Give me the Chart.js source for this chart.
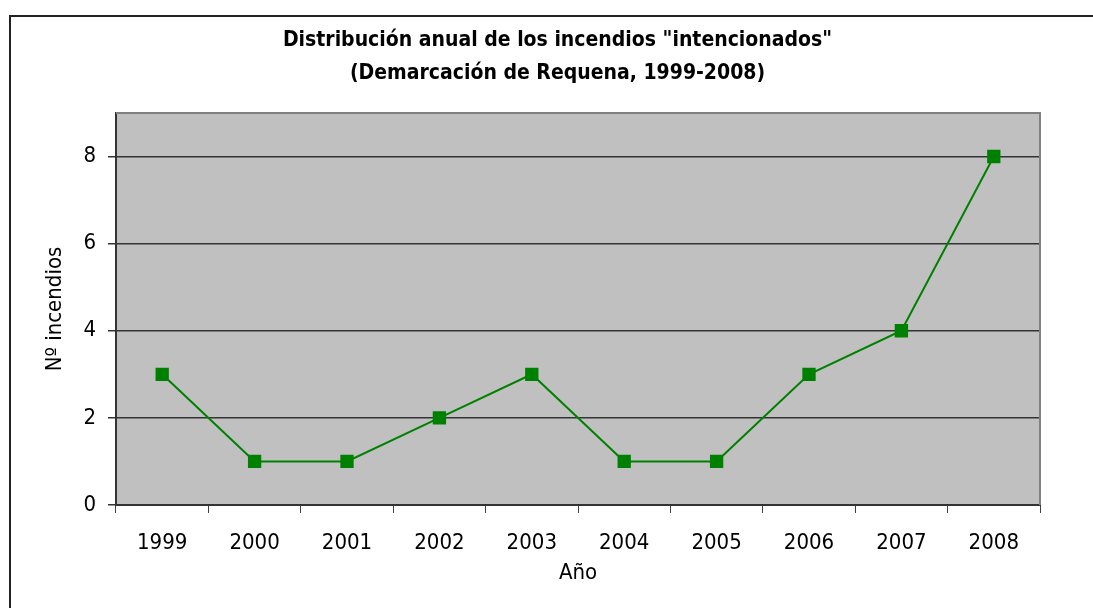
<!DOCTYPE html>
<html>
<head>
<meta charset="utf-8">
<script src="https://cdn.jsdelivr.net/npm/chart.js@4"></script>
<style>
  html, body { margin: 0; padding: 0; background: #fff; }
  #wrap { width: 1093px; height: 608px; }
</style>
</head>
<body>
<div id="wrap"><canvas id="incendiosChart" width="1093" height="608"></canvas></div>
<script>
const anos = ['1999', '2000', '2001', '2002', '2003', '2004', '2005', '2006', '2007', '2008'];
const incendios = [3, 1, 1, 2, 3, 1, 1, 3, 4, 8];
const yTicks = [0, 2, 4, 6, 8];
const tituloLineas = ['Distribución anual de los incendios "intencionados"', '(Demarcación de Requena, 1999-2008)'];

const FAMILIA = "'Liberation Sans Narrow', 'Arial Narrow', 'DejaVu Sans Condensed', sans-serif";

// fondo gris del área de trazado y marco exterior
const fondoPlugin = {
    id: 'fondo',
    afterLayout(chart) {
        // el título va centrado sobre el área de trazado, no sobre todo el lienzo
        if (chart.titleBlock) chart.titleBlock.left = 75;
    },
    beforeDraw(chart) {
        const { ctx, chartArea: a } = chart;
        ctx.save();
        ctx.fillStyle = '#fff';
        ctx.fillRect(0, 0, chart.width, chart.height);
        ctx.strokeStyle = '#222';
        ctx.lineWidth = 2;
        ctx.beginPath();
        ctx.moveTo(10, chart.height + 5);
        ctx.lineTo(10, 16);
        ctx.lineTo(chart.width + 5, 16);
        ctx.stroke();
        ctx.fillStyle = '#c0c0c0';
        ctx.fillRect(a.left, a.top, a.right - a.left, a.bottom - a.top);
        ctx.restore();
    },
    beforeDatasetsDraw(chart) {
        const { ctx, chartArea: a } = chart;
        ctx.save();
        ctx.strokeStyle = '#808080';
        ctx.lineWidth = 2;
        ctx.beginPath();
        ctx.moveTo(a.left, a.top);
        ctx.lineTo(a.right, a.top);
        ctx.lineTo(a.right, a.bottom);
        ctx.stroke();
        ctx.restore();
    }
};

new Chart(document.getElementById('incendiosChart'), {
    type: 'line',
    data: {
        labels: anos,
        datasets: [{
            data: incendios,
            borderColor: '#008000',
            backgroundColor: '#008000',
            borderWidth: 2,
            pointStyle: 'rect',
            pointRadius: 8,
            pointHoverRadius: 8,
            tension: 0
        }]
    },
    options: {
        responsive: false,
        animation: false,
        devicePixelRatio: 1,
        layout: { padding: { left: 10, right: 53, top: 0, bottom: 0 } },
        plugins: {
            legend: { display: false },
            tooltip: { enabled: false },
            title: {
                display: true,
                text: tituloLineas,
                color: '#000',
                font: { family: FAMILIA, size: 21, weight: 'bold', lineHeight: 1.57 },
                padding: { top: 24, bottom: 23 }
            }
        },
        scales: {
            x: {
                offset: true,
                grid: { display: true, drawOnChartArea: false, offset: true, tickLength: 8, color: '#404040', lineWidth: 1 },
                border: { color: '#333', width: 2 },
                ticks: { color: '#000', font: { family: FAMILIA, size: 22 }, padding: 17, maxRotation: 0 },
                title: { display: true, text: 'Año', color: '#000', font: { family: FAMILIA, size: 22 }, padding: { top: 0, bottom: 22 } },
                afterFit(scale) { scale.height = 103; }
            },
            y: {
                min: 0,
                max: 9,
                afterBuildTicks(scale) { scale.ticks = yTicks.map(v => ({ value: v })); },
                grid: { color: '#333', lineWidth: 1.5, tickLength: 8 },
                border: { color: '#333', width: 2 },
                ticks: { color: '#000', font: { family: FAMILIA, size: 22 }, padding: 12 },
                title: { display: true, text: 'Nº incendios', color: '#000', font: { family: FAMILIA, size: 22 }, padding: { top: 32, bottom: 0 } },
                afterFit(scale) { scale.width = 106; }
            }
        }
    },
    plugins: [fondoPlugin]
});
</script>
</body>
</html>
